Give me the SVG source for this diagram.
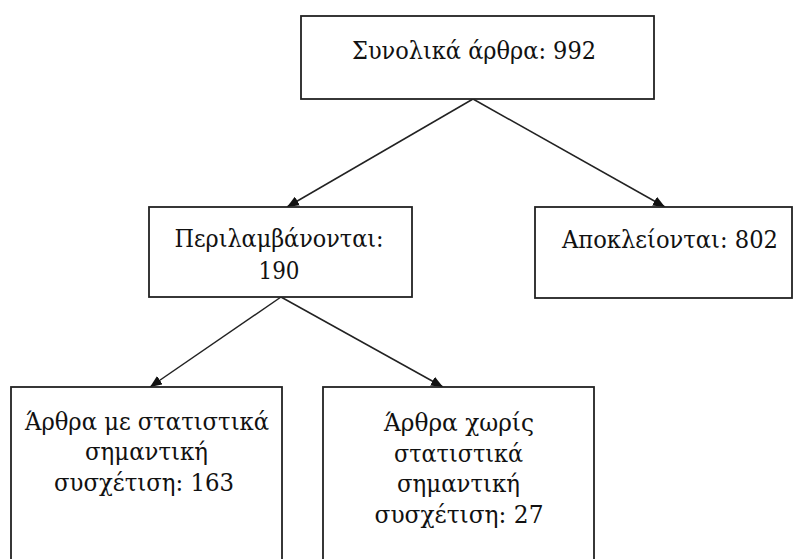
<svg xmlns="http://www.w3.org/2000/svg" width="795" height="559" viewBox="0 0 795 559">
<style>
.box{fill:#fff;stroke:#222;stroke-width:1.8}
text{font-family:'DejaVu Serif Condensed','DejaVu Serif',serif;font-size:25px;fill:#111;text-anchor:middle}
.c{stroke:#222;stroke-width:1.5;fill:none}
</style>
<defs>
<marker id="ah" markerUnits="userSpaceOnUse" markerWidth="12" markerHeight="10" viewBox="0 0 12 10" refX="12" refY="5" orient="auto">
<path d="M0,0 L12,5 L0,10 z" fill="#111"/>
</marker>
</defs>
<rect width="795" height="559" fill="#fff"/>
<g id="connectors">
<line class="c" x1="473" y1="99" x2="287" y2="207" marker-end="url(#ah)"/>
<line class="c" x1="473" y1="99" x2="665" y2="207" marker-end="url(#ah)"/>
<line class="c" x1="281" y1="297" x2="150" y2="387" marker-end="url(#ah)"/>
<line class="c" x1="281" y1="297" x2="443" y2="387" marker-end="url(#ah)"/>
</g>
<g id="n-total">
<rect class="box" x="301" y="16" width="353" height="83"/>
<text x="474" y="59" textLength="244" lengthAdjust="spacingAndGlyphs">Συνολικά άρθρα: 992</text>
</g>
<g id="n-included">
<rect class="box" x="149" y="207" width="263" height="90"/>
<text x="279" y="247" textLength="209" lengthAdjust="spacingAndGlyphs">Περιλαμβάνονται:</text>
<text x="279" y="279" textLength="41" lengthAdjust="spacingAndGlyphs">190</text>
</g>
<g id="n-excluded">
<rect class="box" x="535" y="207" width="257" height="91"/>
<text x="670" y="248" textLength="216" lengthAdjust="spacingAndGlyphs">Αποκλείονται: 802</text>
</g>
<g id="n-significant">
<rect class="box" x="11" y="387" width="271" height="190"/>
<text x="147" y="429.5" textLength="244" lengthAdjust="spacingAndGlyphs">Άρθρα με στατιστικά</text>
<text x="146.5" y="460" textLength="123" lengthAdjust="spacingAndGlyphs">σημαντική</text>
<text x="144" y="490.7" textLength="180" lengthAdjust="spacingAndGlyphs">συσχέτιση: 163</text>
</g>
<g id="n-nonsignificant">
<rect class="box" x="323" y="387" width="271" height="190"/>
<text x="459" y="431" textLength="150" lengthAdjust="spacingAndGlyphs">Άρθρα χωρίς</text>
<text x="458.5" y="461.5" textLength="129" lengthAdjust="spacingAndGlyphs">στατιστικά</text>
<text x="458.5" y="492" textLength="123" lengthAdjust="spacingAndGlyphs">σημαντική</text>
<text x="459" y="523" textLength="169" lengthAdjust="spacingAndGlyphs">συσχέτιση: 27</text>
</g>
</svg>
